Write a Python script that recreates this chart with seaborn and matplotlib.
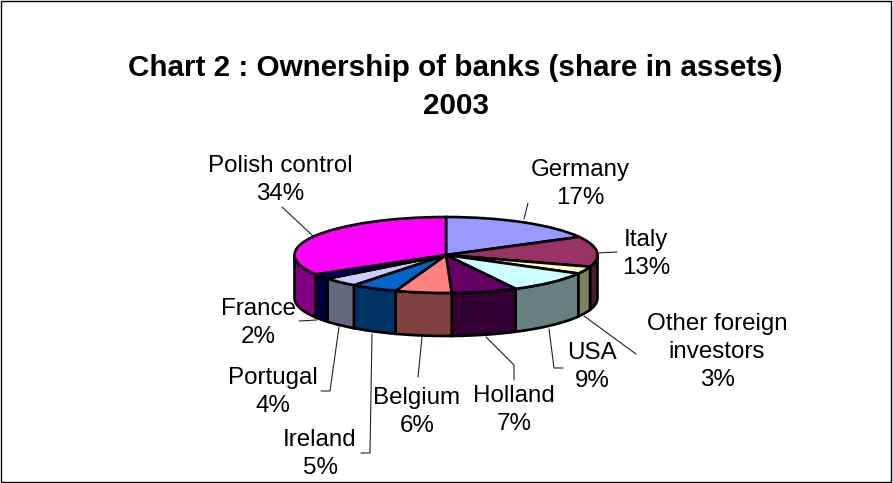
import numpy as np
import matplotlib
matplotlib.use("Agg")
import matplotlib.pyplot as plt
import seaborn as sns

# shares, labels show them rounded
countries = ["Germany", "Italy", "Other foreign\ninvestors", "USA", "Holland",
             "Belgium", "Ireland", "Portugal", "France", "Polish control"]
shares = [17.1, 12.9, 3.1, 9.3, 7.0, 6.0, 5.0, 3.9, 2.2, 33.5]
top_colors = ["#9999FF", "#993366", "#FFFFCC", "#CCFFFF", "#660066",
              "#FF8080", "#0066CC", "#CCCCFF", "#000080", "#FF00FF"]
side_colors = ["#4D4D80", "#4D1A33", "#808066", "#668080", "#330033",
               "#804040", "#003366", "#666680", "#000040", "#800080"]

W, H = 893, 483
cx, cy = 446, 255
rx, ry = 151.5, 38
depth = 43

sns.set_theme(style="white")
plt.rcParams["font.family"] = ["Liberation Sans", "DejaVu Sans"]

fig = plt.figure(figsize=(W / 100, H / 100), dpi=100)
ax = fig.add_axes([0, 0, 1, 1])

ax.pie(shares, colors=top_colors, startangle=90, counterclock=False, radius=1,
       wedgeprops={"edgecolor": "black", "linewidth": 1.9, "zorder": 3})
ax.set_aspect("auto")
ax.set_xlim(-cx / rx, (W - cx) / rx)
ax.set_ylim(-(H - cy) / ry, cy / ry)
ax.set_frame_on(False)


def px(x, y):
    return (x - cx) / rx, (cy - y) / ry


# side wall, only the part of each slice facing the viewer
edges = np.cumsum([0] + shares) / sum(shares) * 360
for a, b, col in zip(edges[:-1], edges[1:], side_colors):
    a2, b2 = max(a, 90), min(b, 270)
    if b2 <= a2:
        continue
    th = np.radians(np.linspace(a2, b2, 40))
    xs = np.sin(th)
    ys = np.cos(th)
    ax.fill(np.r_[xs, xs[::-1]], np.r_[ys, ys[::-1] - depth / ry],
            facecolor=col, edgecolor="black", linewidth=1.9, zorder=2)

# leader lines
leaders = {
    "Germany": [(524, 219), (528, 203)],
    "Italy": [(597, 253), (617, 252)],
    "Other": [(584, 316), (636, 354)],
    "USA": [(549, 329), (554, 368), (563, 368)],
    "Holland": [(486, 337), (514, 365), (514, 380)],
    "Belgium": [(422, 337), (418, 377)],
    "Ireland": [(372, 334), (370, 453), (361, 453)],
    "Portugal": [(339, 327), (330, 391), (321, 391)],
    "France": [(317, 320), (299, 321)],
    "Polish": [(313, 236), (282, 207)],
}
for pts in leaders.values():
    xy = np.array([px(*p) for p in pts])
    ax.plot(xy[:, 0], xy[:, 1], color="#222222", lw=0.8, zorder=1)

# label positions
label_pos = [(580, 184), (646, 254), (717, 352), (592, 367), (514, 410),
             (417, 412), (320, 454), (273, 392), (258, 323), (280, 180)]
for name, share, pos in zip(countries, shares, label_pos):
    x, y = px(*pos)
    ax.text(x, y, f"{name}\n{round(share)}%", ha="center", va="center",
            fontsize=17.4, color="black", linespacing=1.37, zorder=5)

tx, ty = px(455.5, 87)
ax.text(tx, ty, "Chart 2 : Ownership of banks (share in assets)\n2003", ha="center",
        va="center", fontsize=21.3, fontweight="bold", color="black", linespacing=1.42)

# chart area border
fig.add_artist(plt.Rectangle((0.5 / W, 1.5 / H), (W - 2.5) / W, (H - 2) / H, fill=False,
                             edgecolor="black", linewidth=1, transform=fig.transFigure))

fig.savefig("out.png", dpi=100)
